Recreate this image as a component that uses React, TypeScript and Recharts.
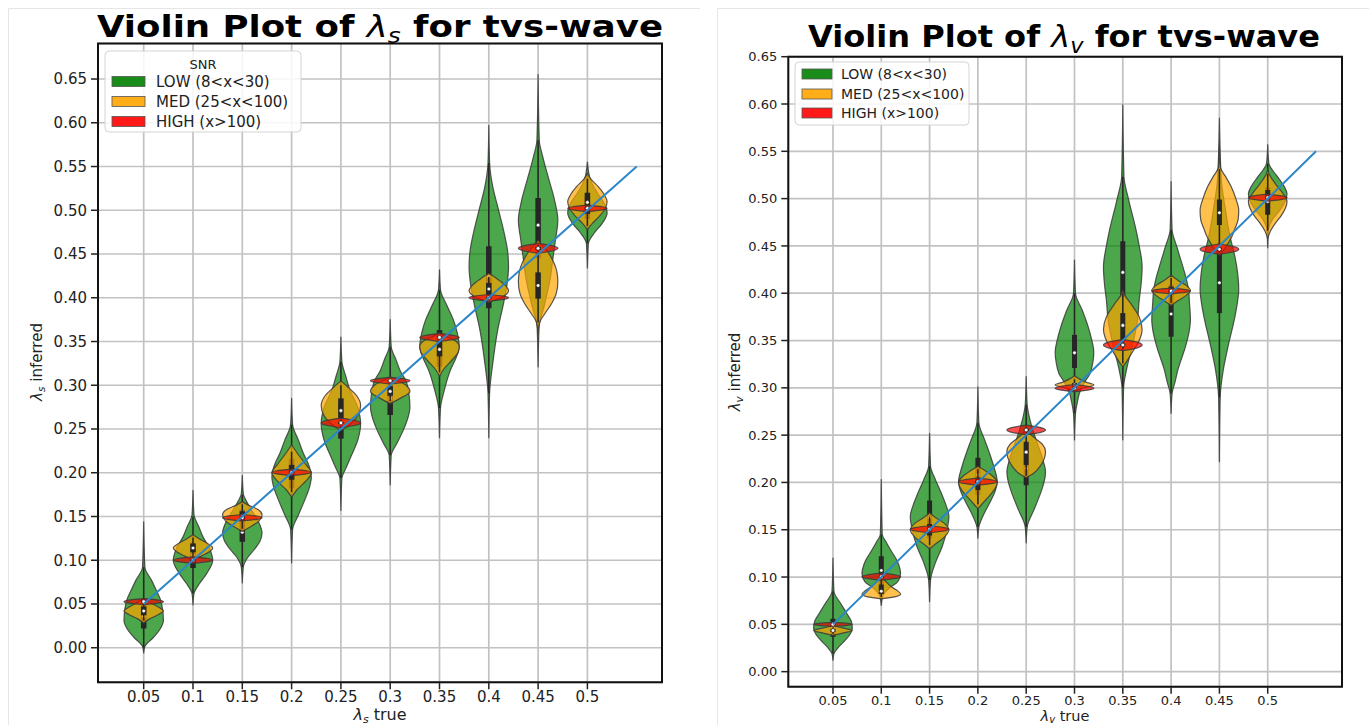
import React from 'react';
import { ComposedChart, Scatter, XAxis, YAxis, CartesianGrid, ReferenceArea } from 'recharts';

// [inferred value, half width relative to the widest point]
type Knot = [number, number];
// [whisker low, q1, median, q3, whisker high]
type Box = [number, number, number, number, number];

const CATEGORIES = ['0.05', '0.1', '0.15', '0.2', '0.25', '0.3', '0.35', '0.4', '0.45', '0.5'];
const CATEGORY_INDEX = [0, 1, 2, 3, 4, 5, 6, 7, 8, 9];
const Y_TICKS = [0, 0.05, 0.1, 0.15, 0.2, 0.25, 0.3, 0.35, 0.4, 0.45, 0.5, 0.55, 0.6, 0.65];
// true == inferred reference line, x in category steps (10 -> 0.55)
const IDENTITY_LINE = [
  { x: 0, y: 0.05 },
  { x: 10, y: 0.55 },
];

const SNR_LABELS = ['LOW (8<x<30)', 'MED (25<x<100)', 'HIGH (x>100)'];
const SNR_COLORS = ['#008000', '#ffa500', '#ff0000'];

// ---- lambda_s ----
const LS_LOW: Knot[][] = [
  [[-0.006, 0], [0.001, 0.05], [0.012, 0.5], [0.022, 0.85], [0.031, 1], [0.045, 0.95], [0.055, 0.85], [0.065, 0.65], [0.077, 0.4], [0.092, 0.06], [0.144, 0]],
  [[0.049, 0], [0.062, 0.05], [0.074, 0.35], [0.085, 0.7], [0.1, 1], [0.113, 0.85], [0.127, 0.5], [0.138, 0.3], [0.152, 0.05], [0.18, 0]],
  [[0.074, 0], [0.092, 0.05], [0.104, 0.3], [0.112, 0.6], [0.122, 0.9], [0.131, 1], [0.145, 0.8], [0.158, 0.45], [0.167, 0.22], [0.176, 0.05], [0.197, 0]],
  [[0.097, 0], [0.135, 0.05], [0.152, 0.35], [0.169, 0.67], [0.183, 0.9], [0.195, 1], [0.21, 0.85], [0.222, 0.6], [0.237, 0.35], [0.255, 0.05], [0.285, 0]],
  [[0.157, 0], [0.194, 0.05], [0.205, 0.25], [0.218, 0.5], [0.237, 0.85], [0.256, 1], [0.275, 0.85], [0.295, 0.45], [0.31, 0.25], [0.327, 0.05], [0.355, 0]],
  [[0.186, 0], [0.22, 0.05], [0.234, 0.35], [0.249, 0.67], [0.263, 0.9], [0.275, 1], [0.29, 0.95], [0.305, 0.8], [0.317, 0.5], [0.329, 0.3], [0.344, 0.05], [0.375, 0]],
  [[0.24, 0], [0.274, 0.05], [0.295, 0.25], [0.317, 0.55], [0.332, 0.85], [0.344, 1], [0.36, 0.9], [0.375, 0.7], [0.39, 0.4], [0.409, 0.05], [0.432, 0]],
  [[0.24, 0], [0.291, 0.04], [0.325, 0.2], [0.363, 0.45], [0.394, 0.75], [0.415, 0.92], [0.435, 1], [0.45, 0.97], [0.477, 0.75], [0.504, 0.45], [0.527, 0.2], [0.554, 0.04], [0.597, 0]],
  [[0.321, 0], [0.367, 0.05], [0.39, 0.3], [0.42, 0.6], [0.445, 0.75], [0.466, 0.88], [0.489, 1], [0.51, 0.85], [0.535, 0.55], [0.56, 0.25], [0.58, 0.06], [0.655, 0]],
  [[0.434, 0], [0.462, 0.05], [0.474, 0.35], [0.485, 0.75], [0.497, 1], [0.508, 0.85], [0.52, 0.5], [0.535, 0.15], [0.555, 0]],
];
const LS_LOW_BOX: Box[] = [
  [0.0, 0.022, 0.036, 0.056, 0.092],
  [0.062, 0.091, 0.106, 0.12, 0.15],
  [0.092, 0.121, 0.132, 0.158, 0.175],
  [0.135, 0.182, 0.2, 0.216, 0.255],
  [0.194, 0.239, 0.258, 0.279, 0.327],
  [0.22, 0.266, 0.285, 0.306, 0.344],
  [0.274, 0.321, 0.342, 0.363, 0.409],
  [0.291, 0.388, 0.424, 0.459, 0.554],
  [0.367, 0.445, 0.483, 0.514, 0.58],
  [0.462, 0.49, 0.503, 0.515, 0.54],
];
const LS_MED: Knot[][] = [
  [[0.028, 0], [0.033, 0.3], [0.038, 0.75], [0.042, 1], [0.047, 0.7], [0.052, 0.3], [0.056, 0]],
  [[0.1, 0], [0.105, 0.45], [0.11, 0.85], [0.114, 1], [0.119, 0.75], [0.124, 0.35], [0.129, 0]],
  [[0.133, 0], [0.138, 0.4], [0.145, 0.85], [0.152, 1], [0.158, 0.8], [0.163, 0.3], [0.167, 0]],
  [[0.172, 0], [0.18, 0.25], [0.19, 0.7], [0.2, 1], [0.21, 0.7], [0.222, 0.3], [0.232, 0]],
  [[0.248, 0], [0.256, 0.5], [0.265, 0.85], [0.277, 1], [0.288, 0.8], [0.297, 0.4], [0.305, 0]],
  [[0.279, 0], [0.285, 0.5], [0.293, 1], [0.3, 0.8], [0.306, 0.3], [0.31, 0]],
  [[0.31, 0], [0.318, 0.2], [0.328, 0.6], [0.338, 0.95], [0.345, 1], [0.352, 0.7], [0.357, 0.2], [0.36, 0]],
  [[0.395, 0], [0.4, 0.6], [0.408, 1], [0.415, 0.8], [0.422, 0.4], [0.428, 0]],
  [[0.36, 0], [0.373, 0.1], [0.382, 0.35], [0.394, 0.7], [0.405, 0.92], [0.418, 1], [0.43, 0.95], [0.44, 0.8], [0.452, 0.5], [0.46, 0.2], [0.466, 0]],
  [[0.478, 0], [0.485, 0.25], [0.493, 0.6], [0.502, 0.9], [0.51, 1], [0.518, 0.85], [0.527, 0.55], [0.535, 0.2], [0.542, 0]],
];
const LS_MED_BOX: Box[] = [
  [0.031, 0.037, 0.042, 0.047, 0.053],
  [0.103, 0.109, 0.114, 0.119, 0.126],
  [0.136, 0.145, 0.151, 0.156, 0.164],
  [0.178, 0.192, 0.2, 0.209, 0.224],
  [0.25, 0.262, 0.271, 0.285, 0.3],
  [0.282, 0.288, 0.293, 0.299, 0.305],
  [0.315, 0.333, 0.341, 0.351, 0.357],
  [0.398, 0.403, 0.41, 0.417, 0.424],
  [0.372, 0.399, 0.414, 0.429, 0.46],
  [0.482, 0.496, 0.509, 0.52, 0.536],
];
const LS_HIGH: Knot[][] = [
  [[0.0492, 0], [0.051, 0.75], [0.0527, 1], [0.0545, 0.75], [0.0562, 0]],
  [[0.0965, 0], [0.0984, 0.75], [0.1002, 1], [0.102, 0.75], [0.1039, 0]],
  [[0.1449, 0], [0.1468, 0.75], [0.1486, 1], [0.1504, 0.75], [0.1523, 0]],
  [[0.1968, 0], [0.1987, 0.75], [0.2005, 1], [0.2023, 0.75], [0.2042, 0]],
  [[0.2515, 0], [0.2543, 0.75], [0.257, 1], [0.2597, 0.75], [0.2625, 0]],
  [[0.3015, 0], [0.3034, 0.75], [0.3052, 1], [0.307, 0.75], [0.3089, 0]],
  [[0.3502, 0], [0.3525, 0.75], [0.3547, 1], [0.3569, 0.75], [0.3592, 0]],
  [[0.3963, 0], [0.3982, 0.75], [0.4, 1], [0.4018, 0.75], [0.4037, 0]],
  [[0.4508, 0], [0.4537, 0.75], [0.4565, 1], [0.4593, 0.75], [0.4622, 0]],
  [[0.4985, 0], [0.5004, 0.75], [0.5022, 1], [0.504, 0.75], [0.5059, 0]],
];
const LS_HIGH_BOX: Box[] = [
  [0.0506, 0.0518, 0.0527, 0.0536, 0.0548],
  [0.0981, 0.0993, 0.1002, 0.1011, 0.1023],
  [0.1465, 0.1477, 0.1486, 0.1495, 0.1507],
  [0.1984, 0.1996, 0.2005, 0.2014, 0.2026],
  [0.2542, 0.2558, 0.257, 0.2582, 0.2598],
  [0.3031, 0.3043, 0.3052, 0.3061, 0.3073],
  [0.3522, 0.3536, 0.3547, 0.3558, 0.3572],
  [0.3979, 0.3991, 0.4, 0.4009, 0.4021],
  [0.453, 0.455, 0.4565, 0.458, 0.46],
  [0.5001, 0.5013, 0.5022, 0.5031, 0.5043],
];

// ---- lambda_v ----
const LV_LOW: Knot[][] = [
  [[0.012, 0], [0.019, 0.05], [0.025, 0.25], [0.0335, 0.65], [0.04, 0.9], [0.046, 1], [0.053, 0.95], [0.062, 0.7], [0.072, 0.4], [0.085, 0.05], [0.12, 0]],
  [[0.07, 0], [0.08, 0.08], [0.088, 0.4], [0.095, 0.85], [0.104, 1], [0.112, 0.92], [0.118, 0.8], [0.128, 0.5], [0.137, 0.25], [0.145, 0.05], [0.203, 0]],
  [[0.074, 0], [0.097, 0.05], [0.115, 0.3], [0.132, 0.65], [0.15, 0.9], [0.164, 1], [0.176, 0.85], [0.189, 0.6], [0.203, 0.3], [0.217, 0.05], [0.252, 0]],
  [[0.141, 0], [0.153, 0.05], [0.164, 0.25], [0.178, 0.6], [0.19, 0.88], [0.201, 1], [0.215, 0.85], [0.231, 0.6], [0.245, 0.35], [0.263, 0.05], [0.301, 0]],
  [[0.136, 0], [0.153, 0.05], [0.171, 0.4], [0.189, 0.75], [0.2, 0.92], [0.211, 1], [0.225, 0.85], [0.24, 0.6], [0.255, 0.35], [0.27, 0.15], [0.282, 0.05], [0.312, 0]],
  [[0.245, 0], [0.273, 0.05], [0.285, 0.15], [0.294, 0.25], [0.305, 0.5], [0.315, 0.8], [0.327, 0.95], [0.338, 1], [0.35, 0.9], [0.365, 0.7], [0.382, 0.4], [0.4, 0.05], [0.435, 0]],
  [[0.245, 0], [0.3, 0.04], [0.32, 0.2], [0.345, 0.5], [0.37, 0.75], [0.393, 0.85], [0.41, 0.95], [0.428, 1], [0.45, 0.85], [0.47, 0.65], [0.499, 0.3], [0.523, 0.06], [0.599, 0]],
  [[0.273, 0], [0.294, 0.05], [0.306, 0.2], [0.319, 0.35], [0.344, 0.75], [0.358, 0.92], [0.372, 1], [0.39, 0.95], [0.404, 0.9], [0.418, 0.75], [0.432, 0.55], [0.449, 0.3], [0.467, 0.05], [0.518, 0]],
  [[0.222, 0], [0.29, 0.04], [0.319, 0.2], [0.344, 0.45], [0.375, 0.8], [0.39, 0.93], [0.404, 1], [0.42, 0.95], [0.439, 0.8], [0.46, 0.55], [0.49, 0.3], [0.52, 0.1], [0.585, 0]],
  [[0.448, 0], [0.468, 0.05], [0.478, 0.25], [0.487, 0.6], [0.497, 0.9], [0.505, 1], [0.513, 0.85], [0.522, 0.55], [0.53, 0.25], [0.537, 0.06], [0.557, 0]],
];
const LV_LOW_BOX: Box[] = [
  [0.019, 0.037, 0.047, 0.056, 0.085],
  [0.08, 0.092, 0.107, 0.122, 0.145],
  [0.097, 0.141, 0.163, 0.181, 0.217],
  [0.153, 0.187, 0.208, 0.226, 0.263],
  [0.153, 0.197, 0.215, 0.241, 0.282],
  [0.273, 0.321, 0.337, 0.356, 0.4],
  [0.3, 0.396, 0.422, 0.455, 0.523],
  [0.294, 0.354, 0.378, 0.409, 0.467],
  [0.29, 0.379, 0.411, 0.453, 0.52],
  [0.468, 0.49, 0.5, 0.512, 0.537],
];
const LV_MED: Knot[][] = [
  [[0.0385, 0], [0.041, 0.55], [0.0435, 1], [0.046, 0.55], [0.0485, 0]],
  [[0.077, 0], [0.079, 0.7], [0.082, 1], [0.086, 0.8], [0.09, 0.5], [0.095, 0.25], [0.1, 0.05], [0.104, 0]],
  [[0.13, 0], [0.135, 0.3], [0.142, 0.75], [0.15, 1], [0.157, 0.75], [0.163, 0.3], [0.168, 0]],
  [[0.172, 0], [0.178, 0.25], [0.187, 0.65], [0.196, 0.95], [0.2, 1], [0.206, 0.8], [0.212, 0.4], [0.217, 0]],
  [[0.205, 0], [0.21, 0.4], [0.218, 0.75], [0.226, 0.95], [0.233, 1], [0.24, 0.85], [0.246, 0.5], [0.252, 0.15], [0.255, 0]],
  [[0.297, 0], [0.3, 0.5], [0.303, 1], [0.306, 0.6], [0.31, 0.2], [0.313, 0]],
  [[0.322, 0], [0.328, 0.2], [0.338, 0.5], [0.35, 0.85], [0.362, 1], [0.375, 0.85], [0.388, 0.45], [0.398, 0.1], [0.403, 0]],
  [[0.387, 0], [0.392, 0.35], [0.398, 0.8], [0.403, 1], [0.408, 0.8], [0.413, 0.4], [0.419, 0]],
  [[0.44, 0], [0.448, 0.3], [0.458, 0.6], [0.468, 0.8], [0.478, 0.97], [0.488, 1], [0.5, 0.85], [0.513, 0.6], [0.524, 0.3], [0.533, 0.05], [0.555, 0]],
  [[0.458, 0], [0.466, 0.15], [0.474, 0.4], [0.482, 0.7], [0.49, 0.92], [0.497, 1], [0.505, 0.8], [0.513, 0.5], [0.52, 0.25], [0.527, 0.05], [0.532, 0]],
];
const LV_MED_BOX: Box[] = [
  [0.04, 0.042, 0.0435, 0.045, 0.047],
  [0.079, 0.082, 0.085, 0.092, 0.1],
  [0.134, 0.144, 0.15, 0.156, 0.164],
  [0.177, 0.192, 0.2, 0.205, 0.214],
  [0.207, 0.2185, 0.232, 0.243, 0.253],
  [0.299, 0.301, 0.303, 0.305, 0.309],
  [0.326, 0.349, 0.366, 0.379, 0.4],
  [0.39, 0.399, 0.403, 0.407, 0.416],
  [0.446, 0.472, 0.485, 0.499, 0.531],
  [0.466, 0.483, 0.497, 0.509, 0.526],
];
const LV_HIGH: Knot[][] = [
  [[0.048, 0], [0.049, 0.75], [0.05, 1], [0.051, 0.75], [0.052, 0]],
  [[0.0967, 0], [0.0986, 0.75], [0.1004, 1], [0.1022, 0.75], [0.1041, 0]],
  [[0.1468, 0], [0.1487, 0.75], [0.1505, 1], [0.1523, 0.75], [0.1542, 0]],
  [[0.1971, 0], [0.199, 0.75], [0.2008, 1], [0.2026, 0.75], [0.2045, 0]],
  [[0.2505, 0], [0.253, 0.75], [0.2555, 1], [0.258, 0.75], [0.2605, 0]],
  [[0.2959, 0], [0.2978, 0.75], [0.2996, 1], [0.3014, 0.75], [0.3033, 0]],
  [[0.3393, 0], [0.3423, 0.75], [0.3453, 1], [0.3483, 0.75], [0.3513, 0]],
  [[0.3994, 0], [0.4009, 0.75], [0.4024, 1], [0.4039, 0.75], [0.4054, 0]],
  [[0.441, 0], [0.4438, 0.75], [0.4465, 1], [0.4492, 0.75], [0.452, 0]],
  [[0.4973, 0], [0.4992, 0.75], [0.501, 1], [0.5028, 0.75], [0.5047, 0]],
];
const LV_HIGH_BOX: Box[] = [
  [0.049, 0.0495, 0.05, 0.0505, 0.051],
  [0.0983, 0.0995, 0.1004, 0.1013, 0.1025],
  [0.1484, 0.1496, 0.1505, 0.1514, 0.1526],
  [0.1987, 0.1999, 0.2008, 0.2017, 0.2029],
  [0.2527, 0.2543, 0.2555, 0.2567, 0.2583],
  [0.2975, 0.2987, 0.2996, 0.3005, 0.3017],
  [0.3418, 0.3438, 0.3453, 0.3468, 0.3488],
  [0.4007, 0.4016, 0.4024, 0.4032, 0.4041],
  [0.443, 0.445, 0.4465, 0.448, 0.45],
  [0.4989, 0.5001, 0.501, 0.5019, 0.5031],
];

const HALF_WIDTH = 0.4;
const FONT = 'DejaVu Sans';

type Pt = { x: number; y: number };

// right-hand outline knots followed by the five box values, all on the category axis
function violinPoints(center: number, knots: Knot[], box: Box) {
  return [
    ...knots.map(([y, w]) => ({ x: center + HALF_WIDTH * w, y })),
    ...box.map((y) => ({ x: center, y })),
  ];
}

// monotone cubic through points ordered along y (x treated as a function of y)
function monotoneY(p: Pt[]): string {
  const n = p.length;
  if (n < 2) return '';
  if (n === 2) return `L${p[1].x},${p[1].y}`;
  const h: number[] = [];
  const s: number[] = [];
  for (let i = 0; i < n - 1; i++) {
    h[i] = p[i + 1].y - p[i].y;
    s[i] = (p[i + 1].x - p[i].x) / h[i];
  }
  const m: number[] = new Array(n).fill(0);
  for (let i = 1; i < n - 1; i++) {
    const q = (s[i - 1] * h[i] + s[i] * h[i - 1]) / (h[i - 1] + h[i]);
    m[i] = (Math.sign(s[i - 1]) + Math.sign(s[i])) * Math.min(Math.abs(s[i - 1]), Math.abs(s[i]), 0.5 * Math.abs(q)) || 0;
  }
  m[0] = (3 * s[0] - m[1]) / 2;
  m[n - 1] = (3 * s[n - 2] - m[n - 2]) / 2;
  let d = '';
  for (let i = 0; i < n - 1; i++) {
    const dt = h[i] / 3;
    d += `C${p[i].x + m[i] * dt},${p[i].y + dt} ${p[i + 1].x - m[i + 1] * dt},${p[i + 1].y - dt} ${p[i + 1].x},${p[i + 1].y}`;
  }
  return d;
}

function violinShape(count: number, color: string, boxWidth: number) {
  return (props: any) => {
    const pts: Pt[] = props.points || [];
    if (pts.length < count + 5) return <g />;
    const side = pts.slice(0, count);
    const [lo, q1, med, q3, hi] = pts.slice(count);
    const cx = med.x;
    const mirror = side.map((p) => ({ x: 2 * cx - p.x, y: p.y })).reverse();
    const d = `M${side[0].x},${side[0].y}${monotoneY(side)}L${mirror[0].x},${mirror[0].y}${monotoneY(mirror)}Z`;
    return (
      <g>
        <path d={d} fill={color} fillOpacity={0.7} stroke="#3a3a3a" strokeOpacity={0.85} strokeWidth={1.2} strokeLinejoin="round" />
        <line x1={cx} x2={cx} y1={lo.y} y2={hi.y} stroke="#262626" strokeWidth={1.5} />
        <line x1={cx} x2={cx} y1={q1.y} y2={q3.y} stroke="#262626" strokeWidth={boxWidth} />
        <circle cx={cx} cy={med.y} r={1.8} fill="#fff" stroke="#262626" strokeWidth={0.5} />
      </g>
    );
  };
}

const hiddenDot = () => <g />;

interface PanelProps {
  left: number;
  width: number;
  margin: { top: number; right: number; bottom: number; left: number };
  xDomain: [number, number];
  yDomain: [number, number];
  levels: { knots: Knot[][]; boxes: Box[] }[];
  tickFont: number;
  boxWidth: number;
}

function ViolinPanel({ left, width, margin, xDomain, yDomain, levels, tickFont, boxWidth }: PanelProps) {
  const tickStyle = { fill: '#222', fontSize: tickFont, fontFamily: FONT };
  return (
    <div style={{ position: 'absolute', left, top: 0 }}>
      <ComposedChart width={width} height={725} margin={margin}>
        <CartesianGrid stroke="#c2c2c2" strokeWidth={1.7} />
        <XAxis
          type="number"
          dataKey="x"
          domain={xDomain}
          allowDataOverflow
          ticks={CATEGORY_INDEX}
          interval={0}
          tickFormatter={(i: number) => CATEGORIES[i]}
          axisLine={false}
          tickSize={7}
          tickMargin={2}
          tickLine={{ stroke: '#222', strokeWidth: 1.5 }}
          tick={tickStyle}
          height={30}
        />
        <YAxis
          type="number"
          dataKey="y"
          domain={yDomain}
          allowDataOverflow
          ticks={Y_TICKS}
          interval={0}
          tickFormatter={(v: number) => v.toFixed(2)}
          axisLine={false}
          tickSize={7}
          tickMargin={4}
          tickLine={{ stroke: '#222', strokeWidth: 1.5 }}
          tick={tickStyle}
          width={60}
        />
        {levels.flatMap((level, li) =>
          level.knots.map((knots, i) => (
            <Scatter
              key={`v-${li}-${i}`}
              data={violinPoints(i, knots, level.boxes[i])}
              shape={hiddenDot}
              line={violinShape(knots.length, SNR_COLORS[li], boxWidth)}
              lineType="joint"
              isAnimationActive={false}
            />
          )),
        )}
        <Scatter
          data={IDENTITY_LINE}
          shape={hiddenDot}
          line={{ stroke: '#2a86c9', strokeWidth: 2 }}
          lineType="joint"
          lineJointType="linear"
          isAnimationActive={false}
        />
        <ReferenceArea
          x1={xDomain[0]}
          x2={xDomain[1]}
          y1={yDomain[0]}
          y2={yDomain[1]}
          fill="none"
          stroke="#111"
          strokeWidth={2}
          ifOverflow="visible"
        />
      </ComposedChart>
    </div>
  );
}

function LegendBox({ x, y, w, h, rows, patchW, textX, font, title }: {
  x: number; y: number; w: number; h: number; rows: number[]; patchW: number; textX: number; font: number; title?: { x: number; y: number };
}) {
  return (
    <g>
      <rect x={x} y={y} width={w} height={h} rx={4} fill="#fff" fillOpacity={0.85} stroke="#d4d4d4" />
      {title && (
        <text x={title.x} y={title.y} textAnchor="middle" fontSize={13} fontFamily={FONT} fill="#222">
          SNR
        </text>
      )}
      {SNR_LABELS.map((label, i) => (
        <g key={label}>
          <rect x={x + 7} y={rows[i] - 5} width={patchW} height={10} fill={SNR_COLORS[i]} fillOpacity={0.9} stroke="#555" strokeWidth={0.8} />
          <text x={textX} y={rows[i] + 5} fontSize={font} fontFamily={FONT} fill="#222">
            {label}
          </text>
        </g>
      ))}
    </g>
  );
}

function Annotations() {
  const italic = { fontStyle: 'italic' as const, fontWeight: 'normal' as const };
  return (
    <svg width={1369} height={725} style={{ position: 'absolute', left: 0, top: 0, pointerEvents: 'none' }}>
      <path d="M8.5,725 L8.5,8.5 L700,8.5" fill="none" stroke="#e6e6e6" />
      <path d="M717.5,725 L717.5,8.5 L1369,8.5" fill="none" stroke="#e6e6e6" />

      <text x={380} y={37} textAnchor="middle" fontFamily={FONT} fontWeight="bold" fontSize={30} fill="#000" textLength={566} lengthAdjust="spacingAndGlyphs">
        Violin Plot of <tspan {...italic}>λ</tspan>
        <tspan {...italic} fontSize={21} dy={6}>s</tspan>
        <tspan dy={-6}> for tvs-wave</tspan>
      </text>
      <text x={1064} y={47} textAnchor="middle" fontFamily={FONT} fontWeight="bold" fontSize={30} fill="#000" textLength={512} lengthAdjust="spacingAndGlyphs">
        Violin Plot of <tspan {...italic}>λ</tspan>
        <tspan {...italic} fontSize={21} dy={6}>v</tspan>
        <tspan dy={-6}> for tvs-wave</tspan>
      </text>

      <text x={380} y={720} textAnchor="middle" fontFamily={FONT} fontSize={16} fill="#222">
        <tspan {...italic}>λ</tspan>
        <tspan {...italic} fontSize={11} dy={2.5}>s</tspan>
        <tspan dy={-2.5}> true</tspan>
      </text>
      <text x={1065} y={720.5} textAnchor="middle" fontFamily={FONT} fontSize={14.5} fill="#222">
        <tspan {...italic}>λ</tspan>
        <tspan {...italic} fontSize={10} dy={2}>v</tspan>
        <tspan dy={-2}> true</tspan>
      </text>
      <text transform="translate(42,362) rotate(-90)" textAnchor="middle" fontFamily={FONT} fontSize={15} fill="#222">
        <tspan {...italic}>λ</tspan>
        <tspan {...italic} fontSize={10.5} dy={3}>s</tspan>
        <tspan dy={-3}> inferred</tspan>
      </text>
      <text transform="translate(740,372) rotate(-90)" textAnchor="middle" fontFamily={FONT} fontSize={15} fill="#222">
        <tspan {...italic}>λ</tspan>
        <tspan {...italic} fontSize={10.5} dy={3}>v</tspan>
        <tspan dy={-3}> inferred</tspan>
      </text>

      <LegendBox x={105} y={51} w={196} h={81} rows={[81.5, 101.5, 121.5]} patchW={33} textX={156} font={15} title={{ x: 203, y: 69 }} />
      <LegendBox x={795} y={62} w={174} h={63} rows={[74, 94, 113]} patchW={30} textX={841} font={14} />
    </svg>
  );
}

export default function App() {
  return (
    <div style={{ position: 'absolute', left: 0, top: 0, width: 1369, height: 725, background: '#fff', overflow: 'hidden' }}>
      <ViolinPanel
        left={0}
        width={700}
        margin={{ top: 43.5, right: 38, bottom: 12.7, left: 38 }}
        xDomain={[-0.927, 10.513]}
        yDomain={[-0.0395, 0.6906]}
        levels={[
          { knots: LS_LOW, boxes: LS_LOW_BOX },
          { knots: LS_MED, boxes: LS_MED_BOX },
          { knots: LS_HIGH, boxes: LS_HIGH_BOX },
        ]}
        tickFont={15}
        boxWidth={5.5}
      />
      <ViolinPanel
        left={700}
        width={669}
        margin={{ top: 56.7, right: 27, bottom: 8.3, left: 28.3 }}
        xDomain={[-0.925, 10.538]}
        yDomain={[-0.0159, 0.65]}
        levels={[
          { knots: LV_LOW, boxes: LV_LOW_BOX },
          { knots: LV_MED, boxes: LV_MED_BOX },
          { knots: LV_HIGH, boxes: LV_HIGH_BOX },
        ]}
        tickFont={13}
        boxWidth={5}
      />
      <Annotations />
    </div>
  );
}
